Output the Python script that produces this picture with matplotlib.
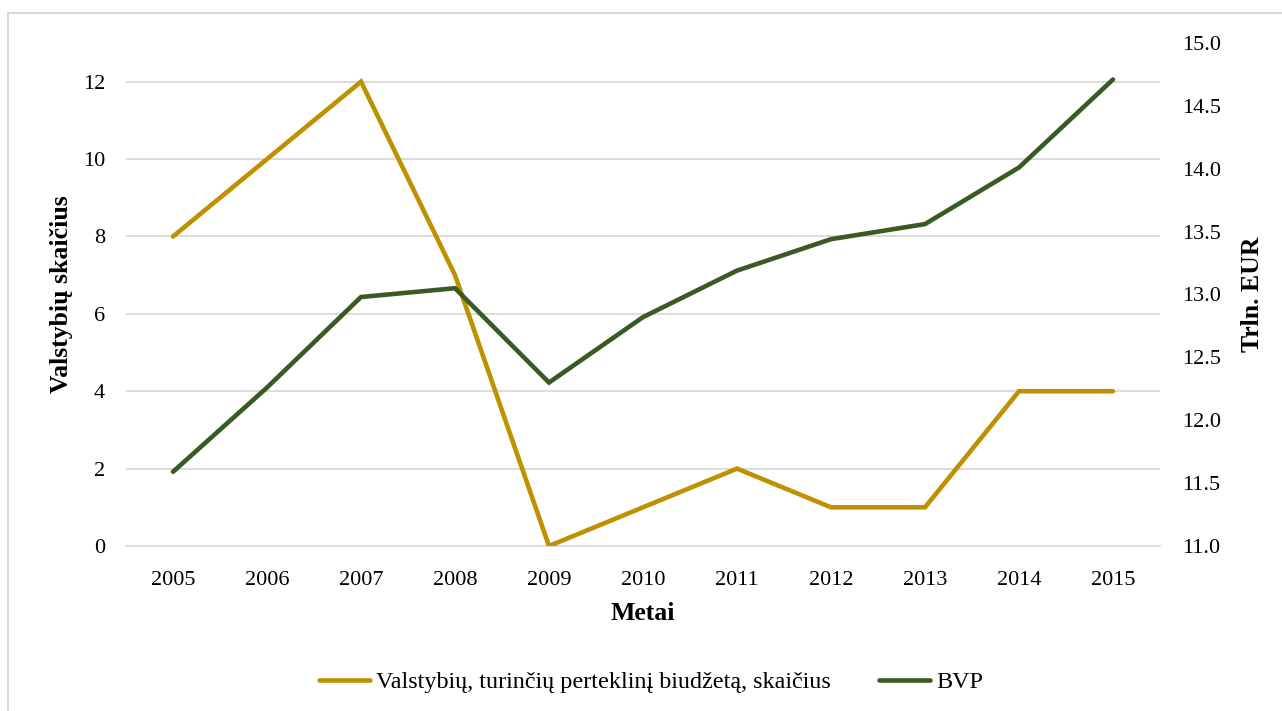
import matplotlib
matplotlib.use("Agg")
import matplotlib.pyplot as plt
from matplotlib.lines import Line2D

plt.rcParams['font.family'] = ['Liberation Serif', 'DejaVu Serif']

years = ['2005', '2006', '2007', '2008', '2009', '2010', '2011', '2012', '2013', '2014', '2015']
surplus_count = [8, 10, 12, 7, 0, 1, 2, 1, 1, 4, 4]
gdp_trln_eur = [11.59, 12.26, 12.98, 13.05, 12.30, 12.82, 13.19, 13.44, 13.56, 14.01, 14.71]

left_ticks = [0, 2, 4, 6, 8, 10, 12]
right_ticks = [11.0, 11.5, 12.0, 12.5, 13.0, 13.5, 14.0, 14.5, 15.0]

c_yellow = '#BF9000'
c_green = '#3A5A23'
grid_c = '#D9D9D9'

fig = plt.figure(figsize=(12.82, 7.11), dpi=100)
# outer frame (left and top only visible)
fig.add_artist(Line2D([8/1282, 8/1282], [0, 1 - 13/711], color='#D9D9D9', lw=1.5, transform=fig.transFigure))
fig.add_artist(Line2D([8/1282, 1], [1 - 13/711, 1 - 13/711], color='#D9D9D9', lw=1.5, transform=fig.transFigure))

ax = fig.add_axes([126/1282, 1 - 546/711, (1160 - 126)/1282, (546 - 43)/711])
ax2 = ax.twinx()

x = list(range(len(years)))
ax.plot(x, surplus_count, color=c_yellow, lw=3.3, solid_capstyle='round', solid_joinstyle='miter', zorder=3)
ax2.plot(x, gdp_trln_eur, color=c_green, lw=3.3, solid_capstyle='round', solid_joinstyle='miter', zorder=3)

ax.set_xlim(-0.5, len(years) - 0.5)
ax.set_ylim(0, 13)
ax2.set_ylim(11, 15)
ax.set_yticks(left_ticks)
ax.set_yticklabels([str(t) for t in left_ticks])
ax2.set_yticks(right_ticks)
ax2.set_yticklabels([f'{t:.1f}' for t in right_ticks])
ax.set_xticks(x)
ax.set_xticklabels(years)

ax.grid(axis='y', color=grid_c, lw=1.3)
ax.set_axisbelow(True)
for a in (ax, ax2):
    for s in a.spines.values():
        s.set_visible(False)
    a.tick_params(length=0, labelsize=16, colors='#000000')
ax.spines['bottom'].set_visible(True)
ax.spines['bottom'].set_color(grid_c)
ax.spines['bottom'].set_linewidth(1.3)
ax.tick_params(axis='y', pad=15)
ax2.tick_params(axis='y', pad=16)
ax.tick_params(axis='x', pad=18)

ax.set_xlabel('Metai', fontsize=18.5, fontweight='bold', labelpad=9)
ax.set_ylabel('Valstybių skaičius', fontsize=18.5, fontweight='bold', labelpad=7)
ax2.set_ylabel('Trln. EUR', fontsize=18.5, fontweight='bold', labelpad=14)

h1 = Line2D([], [], color=c_yellow, lw=3.3, solid_capstyle='round')
h2 = Line2D([], [], color=c_green, lw=3.3, solid_capstyle='round')
fig.legend([h1, h2], ['Valstybių, turinčių perteklinį biudžetą, skaičius', 'BVP'],
           loc='center', bbox_to_anchor=(651/1282, 1 - 682/711), ncol=2, frameon=False,
           fontsize=17.4, handlelength=2.1, handletextpad=0.25, columnspacing=2.0)

fig.savefig('out.png', dpi=100, facecolor='white')
